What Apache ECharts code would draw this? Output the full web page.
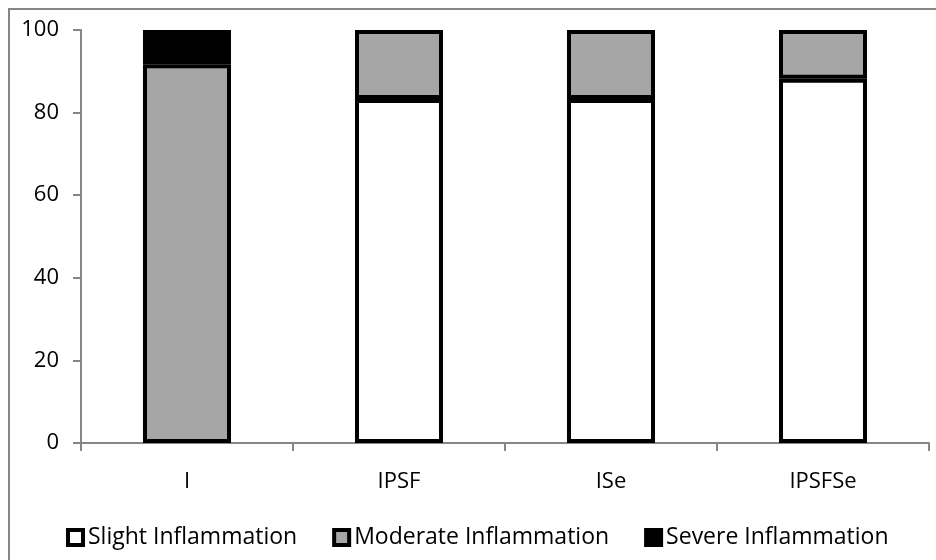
<!DOCTYPE html>
<html>
<head>
<meta charset="utf-8">
<script src="https://cdn.jsdelivr.net/npm/echarts@6/dist/echarts.min.js"></script>
<style>
  html, body { margin: 0; padding: 0; background: #fff; }
  #chart { width: 936px; height: 560px; }
</style>
</head>
<body>
<div id="chart"></div>
<script>
// Share of animals (%) per inflammation grade in each group
const categories = ['I', 'IPSF', 'ISe', 'IPSFSe'];
const slight = [0, 83.3, 83.3, 88.2];
const moderate = [91.7, 16.7, 16.7, 11.8];
const severe = [8.3, 0, 0, 0];
const yTicks = [0, 20, 40, 60, 80, 100];

const FONT = '"Open Sans", sans-serif';
const AXIS_GREY = '#868686';

const chart = echarts.init(document.getElementById('chart'), null, { renderer: 'canvas' });

// Empty segments are left out so they do not leave a stray outline
function stackSeries(name, data, color) {
  return {
    name: name,
    type: 'bar',
    stack: 'grade',
    data: data.map(v => (v === 0 ? null : v)),
    barWidth: 88,
    itemStyle: { color: color, borderColor: '#000', borderWidth: 4 },
    emphasis: { disabled: true }
  };
}

chart.setOption({
  animation: false,
  backgroundColor: '#fff',
  graphic: [{
    type: 'rect',
    shape: { x: 9, y: 9, width: 1000, height: 1000 },
    style: { fill: null, stroke: AXIS_GREY, lineWidth: 2 },
    silent: true,
    z: -1
  }],
  grid: { left: 81, right: 7, top: 30, bottom: 117, containLabel: false },
  legend: {
    left: 61,
    top: 521,
    itemWidth: 15,
    itemHeight: 15,
    itemGap: 35,
    icon: 'rect',
    itemStyle: { borderColor: '#000', borderWidth: 4 },
    textStyle: { fontFamily: FONT, fontSize: 23, color: '#000' },
    data: ['Slight Inflammation', 'Moderate Inflammation', 'Severe Inflammation']
  },
  xAxis: {
    type: 'category',
    data: categories,
    axisLine: { show: true, lineStyle: { color: AXIS_GREY, width: 2 } },
    axisTick: { show: true, length: 8, lineStyle: { color: AXIS_GREY, width: 2 } },
    axisLabel: { fontFamily: FONT, fontSize: 22, color: '#000', margin: 28 },
    splitLine: { show: false }
  },
  yAxis: {
    type: 'value',
    min: yTicks[0],
    max: yTicks[yTicks.length - 1],
    interval: yTicks[1] - yTicks[0],
    axisLine: { show: true, lineStyle: { color: AXIS_GREY, width: 2 } },
    axisTick: { show: true, length: 8, lineStyle: { color: AXIS_GREY, width: 2 } },
    axisLabel: { fontFamily: FONT, fontSize: 22, color: '#000', margin: 22 },
    splitLine: { show: false }
  },
  series: [
    stackSeries('Slight Inflammation', slight, '#ffffff'),
    stackSeries('Moderate Inflammation', moderate, '#a6a6a6'),
    stackSeries('Severe Inflammation', severe, '#000000')
  ]
});
</script>
</body>
</html>
